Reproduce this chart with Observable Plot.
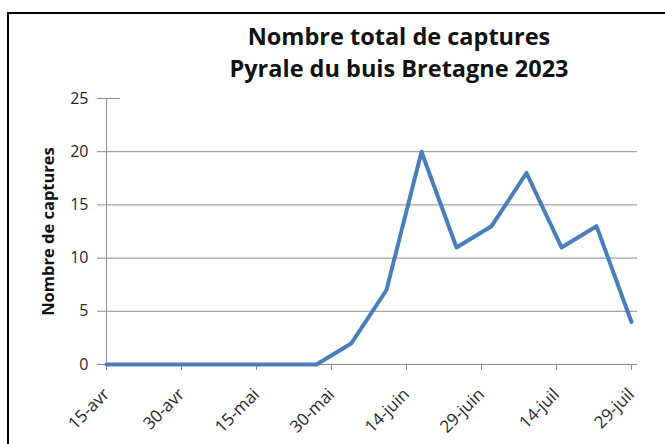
<!DOCTYPE html>
<html>
<head>
<meta charset="utf-8">
<script src="https://cdn.jsdelivr.net/npm/d3@7"></script>
<script src="https://cdn.jsdelivr.net/npm/@observablehq/plot@0.6"></script>
<style>
  html, body { margin: 0; padding: 0; background: #fff; }
  #wrap { position: relative; width: 665px; height: 444px; overflow: hidden; background: #fff; }
  #frame { position: absolute; left: 7px; top: 12px; width: 700px; height: 500px;
           border-left: 2.5px solid #000; border-top: 2.5px solid #000; }
  #chart { position: absolute; left: 0; top: 0; }
  #title { position: absolute; left: 199px; width: 400px; top: 20px; text-align: center;
           font-family: "Open Sans", sans-serif; font-weight: bold; font-size: 23.5px;
           line-height: 32px; color: #111; }
</style>
</head>
<body>
<div id="wrap">
  <div id="frame"></div>
  <div id="chart"></div>
  <div id="title"></div>
</div>
<script>
const titleLines = ["Nombre total de captures", "Pyrale du buis Bretagne 2023"];
const yLabel = "Nombre de captures";

// weekly sampling dates (2023)
const dates = [
  "2023-04-15", "2023-04-22", "2023-04-29", "2023-05-06", "2023-05-13", "2023-05-20",
  "2023-05-27", "2023-06-03", "2023-06-10", "2023-06-17", "2023-06-24", "2023-07-01",
  "2023-07-08", "2023-07-15", "2023-07-22", "2023-07-29"
];
const captures = [0, 0, 0, 0, 0, 0, 0, 2, 7, 20, 11, 13, 18, 11, 13, 4];

const xTickDates = ["2023-04-15", "2023-04-30", "2023-05-15", "2023-05-30",
                    "2023-06-14", "2023-06-29", "2023-07-14", "2023-07-29"];
const xTickLabels = ["15-avr", "30-avr", "15-mai", "30-mai", "14-juin", "29-juin", "14-juil", "29-juil"];
const yTicks = [0, 5, 10, 15, 20, 25];
const yGrid = [5, 10, 15, 20];

document.getElementById("title").innerHTML = titleLines.join("<br>");

const data = dates.map((d, i) => ({date: new Date(d), value: captures[i]}));
const tickDates = xTickDates.map(d => new Date(d));
const labelFor = new Map(tickDates.map((d, i) => [+d, xTickLabels[i]]));

const gridColor = "#8c8c8c";
const textColor = "#262626";

const chart = Plot.plot({
  width: 665,
  height: 444,
  marginLeft: 97,
  marginRight: 28,
  marginTop: 98,
  marginBottom: 80,
  style: {fontFamily: "'Open Sans', sans-serif", fontSize: "16px", background: "transparent"},
  x: {type: "utc", domain: [tickDates[0], tickDates[tickDates.length - 1]], insetLeft: 9, insetRight: 6},
  y: {domain: [0, 25]},
  marks: [
    Plot.ruleY(yGrid, {stroke: gridColor, strokeWidth: 1}),
    Plot.ruleY([25], {stroke: gridColor, strokeWidth: 1, insetRight: 517}),
    Plot.ruleY([0], {stroke: gridColor, strokeWidth: 1}),
    Plot.ruleX([tickDates[0]], {y1: 0, y2: 25, stroke: gridColor, strokeWidth: 1}),
    Plot.axisY({ticks: yTicks, tickSize: 0, tickPadding: 9, label: null, fill: textColor, fontSize: 16}),
    Plot.axisX({
      ticks: tickDates,
      tickFormat: d => labelFor.get(+d),
      tickSize: 6,
      tickPadding: 21,
      tickRotate: -45,
      label: null,
      stroke: gridColor,
      fill: textColor,
      fontSize: 17
    }),
    Plot.text([yLabel], {
      frameAnchor: "left", dx: -49, rotate: -90, textAnchor: "middle",
      fontWeight: "bold", fontSize: 16.5, fill: "#111"
    }),
    Plot.line(data, {
      x: "date", y: "value",
      stroke: "#4a7ebb", strokeWidth: 4, strokeLinejoin: "round", strokeLinecap: "round"
    })
  ]
});

document.getElementById("chart").appendChild(chart);
</script>
</body>
</html>
